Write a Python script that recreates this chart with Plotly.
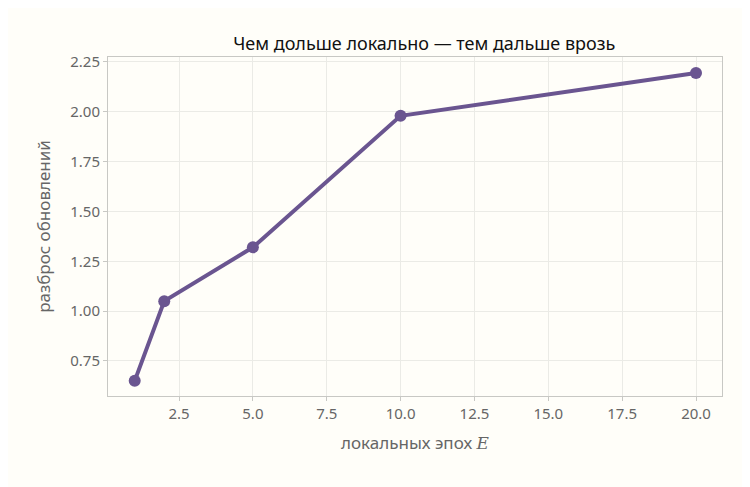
import plotly.graph_objects as go

epochs = [1, 2, 5, 10, 20]
spread = [0.65, 1.05, 1.32, 1.98, 2.195]

fig = go.Figure(go.Scatter(
    x=epochs, y=spread, mode='lines+markers',
    line=dict(color='#6a5590', width=4),
    marker=dict(size=12, color='#6a5590'),
))

axis = dict(showgrid=True, gridcolor='#ebebe6', zeroline=False,
            showline=True, linecolor='#c8c8c4', mirror=True,
            ticks='outside', ticklen=4, tickcolor='#c8c8c4',
            tickfont=dict(size=15, color='#666'))

fig.update_layout(
    width=750, height=487,
    paper_bgcolor='#fffef9', plot_bgcolor='#fffef9',
    font=dict(family='Noto Sans', color='#555'),
    margin=dict(l=100, r=36, t=49, b=99),
    title=dict(text='Чем дольше локально — тем дальше врозь', x=0.555, xanchor='center',
               y=0.94, font=dict(size=18, color='#111')),
    xaxis=dict(axis, range=[0.096, 20.88], tickformat='.1f', dtick=2.5, tick0=0,
               title=dict(text='локальных эпох <i style="font-family:DejaVu Serif">E</i>',
                          font=dict(size=17, color='#666'))),
    yaxis=dict(axis, range=[0.574, 2.275], tickformat='.2f', dtick=0.25, tick0=0,
               title=dict(text='разброс обновлений', font=dict(size=17, color='#666'))),
    showlegend=False,
)
fig.write_html("out.html")
